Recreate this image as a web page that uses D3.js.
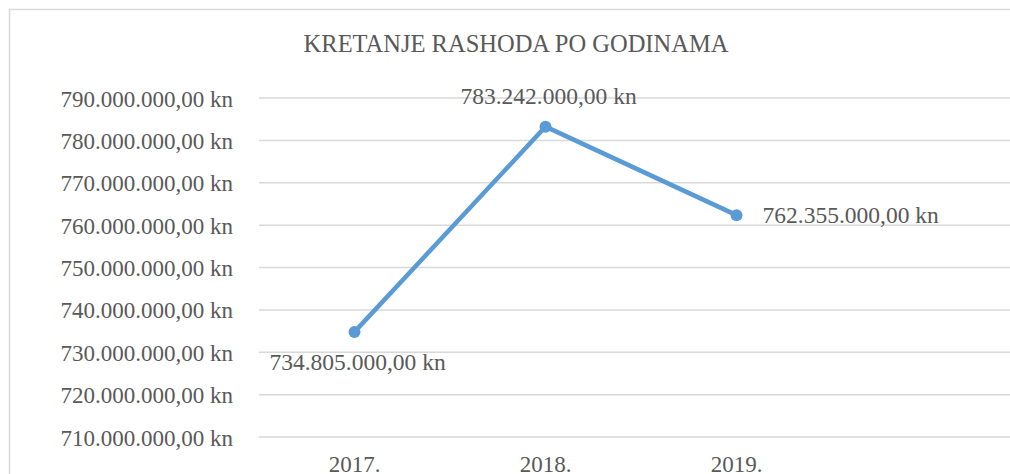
<!DOCTYPE html>
<html>
<head>
<meta charset="utf-8">
<script src="https://cdn.jsdelivr.net/npm/d3@7"></script>
<style>
  body { margin: 0; background: #fff; }
  svg text { font-family: "Liberation Serif", "Times New Roman", serif; fill: #595959; }
</style>
</head>
<body>
<svg id="chart" width="1010" height="474"></svg>
<script>
// chart data
const years = ['2017.', '2018.', '2019.']
const expenses = [734805000, 783242000, 762355000]
const yTicks = [710000000, 720000000, 730000000, 740000000, 750000000, 760000000, 770000000, 780000000, 790000000]
const title = 'KRETANJE RASHODA PO GODINAMA'

const svg = d3.select('#chart')

// number format like "790.000.000,00 kn"
const hr = d3.formatLocale({ decimal: ',', thousands: '.', grouping: [3], currency: ['', ' kn'] })
const fmt = v => hr.format(',.2f')(v) + ' kn'

const left = 259
const band = 191

const x = d3.scaleBand()
  .domain(years)
  .range([left, left + band * years.length])

const y = d3.scaleLinear()
  .domain([710000000, 790000000])
  .range([437, 98])

// outer frame
svg.append('rect')
  .attr('x', 9.5).attr('y', 9.5)
  .attr('width', 1010).attr('height', 480)
  .attr('fill', 'none')
  .attr('stroke', '#d9d9d9')
  .attr('stroke-width', 1.5)

svg.append('text')
  .attr('x', 516).attr('y', 52)
  .attr('text-anchor', 'middle')
  .attr('font-size', 24.5)
  .text(title)

// gridlines
svg.append('g')
  .selectAll('line')
  .data(yTicks)
  .enter()
  .append('line')
  .attr('x1', left).attr('x2', 1010)
  .attr('y1', d => y(d)).attr('y2', d => y(d))
  .attr('stroke', '#d9d9d9')
  .attr('stroke-width', 1.5)

// y axis
const yAxis = svg.append('g')
  .attr('transform', 'translate(' + 233 + ',0)')
  .call(d3.axisLeft(y).tickValues(yTicks).tickFormat(fmt).tickSize(0).tickPadding(0))
yAxis.select('.domain').remove()
yAxis.selectAll('text')
  .attr('font-size', 23)
  .attr('fill', '#595959')
  .attr('font-family', '"Liberation Serif", serif')
  .attr('dy', '0.35em')

// x axis labels
const xAxis = svg.append('g')
  .attr('transform', 'translate(0,454)')
  .call(d3.axisBottom(x).tickSize(0).tickPadding(0))
xAxis.select('.domain').remove()
xAxis.selectAll('text')
  .attr('font-size', 23)
  .attr('fill', '#595959')
  .attr('font-family', '"Liberation Serif", serif')
  .attr('dy', '0.78em')

const cx = d => x(d) + x.bandwidth() / 2
const points = years.map((yr, i) => ({ year: yr, value: expenses[i] }))

svg.append('path')
  .datum(points)
  .attr('fill', 'none')
  .attr('stroke', '#5b9bd5')
  .attr('stroke-width', 4.5)
  .attr('stroke-linejoin', 'round')
  .attr('d', d3.line().x(d => cx(d.year)).y(d => y(d.value)))

svg.selectAll('circle.pt')
  .data(points)
  .enter()
  .append('circle')
  .attr('class', 'pt')
  .attr('cx', d => cx(d.year))
  .attr('cy', d => y(d.value))
  .attr('r', 6)
  .attr('fill', '#5b9bd5')

// data labels: below, above, right
const labelPos = [
  { dx: 3, dy: 38, anchor: 'middle' },
  { dx: 3, dy: -23, anchor: 'middle' },
  { dx: 26, dy: 8, anchor: 'start' }
]
svg.selectAll('text.lbl')
  .data(points)
  .enter()
  .append('text')
  .attr('class', 'lbl')
  .attr('x', (d, i) => cx(d.year) + labelPos[i].dx)
  .attr('y', (d, i) => y(d.value) + labelPos[i].dy)
  .attr('text-anchor', (d, i) => labelPos[i].anchor)
  .attr('font-size', 23.5)
  .text(d => fmt(d.value))
</script>
</body>
</html>
